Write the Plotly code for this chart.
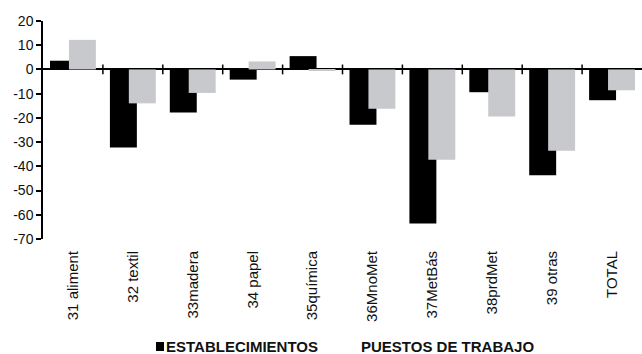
import plotly.graph_objects as go

categories = ["31 aliment", "32 textil", "33madera", "34 papel", "35química",
              "36MnoMet", "37MetBás", "38prdMet", "39 otras", "TOTAL"]
establecimientos = [3.6, -32.2, -17.8, -4.2, 5.5, -22.8, -63.6, -9.4, -43.7, -12.7]
puestos_trabajo = [12.2, -14.0, -9.7, 3.3, -0.5, -16.2, -37.3, -19.4, -33.6, -8.6]
y_ticks = [20, 10, 0, -10, -20, -30, -40, -50, -60, -70]
series_names = ["ESTABLECIMIENTOS", "PUESTOS DE TRABAJO"]

idx = list(range(len(categories)))
boundaries = [i + 0.5 for i in idx[:-1]]

FONT = "Arial, Liberation Sans, Helvetica, sans-serif"

fig = go.Figure()
fig.add_trace(go.Bar(
    x=idx, y=establecimientos, name=series_names[0],
    marker=dict(color="#000000", line=dict(width=0)),
    width=0.45, offset=-0.383, hoverinfo="y",
))
fig.add_trace(go.Bar(
    x=idx, y=puestos_trabajo, name=series_names[1],
    marker=dict(color="#c8c9cc", line=dict(width=0)),
    width=0.45, offset=-0.067, hoverinfo="y",
))
# category-boundary tick marks on the zero line
fig.add_trace(go.Scatter(
    x=boundaries, y=[0] * len(boundaries), mode="markers",
    marker=dict(symbol="line-ns", size=7, line=dict(width=1.5, color="#000")),
    showlegend=False, hoverinfo="skip",
))

# legend rendered as text, as in the original (grey key faded out)
LEG_Y = -(346 - 239) / 218
fig.add_annotation(
    text="<b>" + series_names[0] + "</b>", xref="paper", yref="paper",
    x=(164 - 43) / 599, y=LEG_Y, xanchor="left", yanchor="middle",
    showarrow=False, font=dict(family=FONT, size=15, color="#111"),
)
fig.add_shape(
    type="rect", xref="paper", yref="paper",
    x0=(156 - 43) / 599, x1=(164 - 43) / 599,
    y0=-(351 - 239) / 218, y1=-(342 - 239) / 218,
    fillcolor="#000", line=dict(width=0),
)
fig.add_annotation(
    text="<b>" + series_names[1] + "</b>", xref="paper", yref="paper",
    x=(359 - 43) / 599, y=LEG_Y, xanchor="left", yanchor="middle",
    showarrow=False, font=dict(family=FONT, size=15, color="#111"),
)

fig.update_layout(
    width=642, height=354,
    margin=dict(l=43, r=0, t=21, b=115, autoexpand=False),
    paper_bgcolor="white", plot_bgcolor="white",
    barmode="overlay",
    font=dict(family=FONT, color="#111"),
    showlegend=False,
    xaxis=dict(
        range=[-0.5, 9.5], tickvals=idx, ticktext=categories,
        tickangle=-90, showgrid=False, zeroline=False, showline=False,
        ticks="", tickfont=dict(size=15, family=FONT, color="#111"),
        ticklabelstandoff=8, automargin=False,
    ),
    yaxis=dict(
        range=[-70, 20], tickvals=y_ticks, ticktext=[str(v) for v in y_ticks],
        showgrid=False, zeroline=True, zerolinecolor="#000", zerolinewidth=1.5,
        showline=True, linecolor="#000", linewidth=1.5,
        ticks="outside", ticklen=5, tickwidth=1.5, tickcolor="#000",
        tickfont=dict(size=14, family=FONT, color="#111"), automargin=False,
    ),
)

fig.write_html(
    "out.html",
    config={"displayModeBar": False},
    post_script="document.body.style.margin='0';document.body.style.overflow='hidden';",
)
